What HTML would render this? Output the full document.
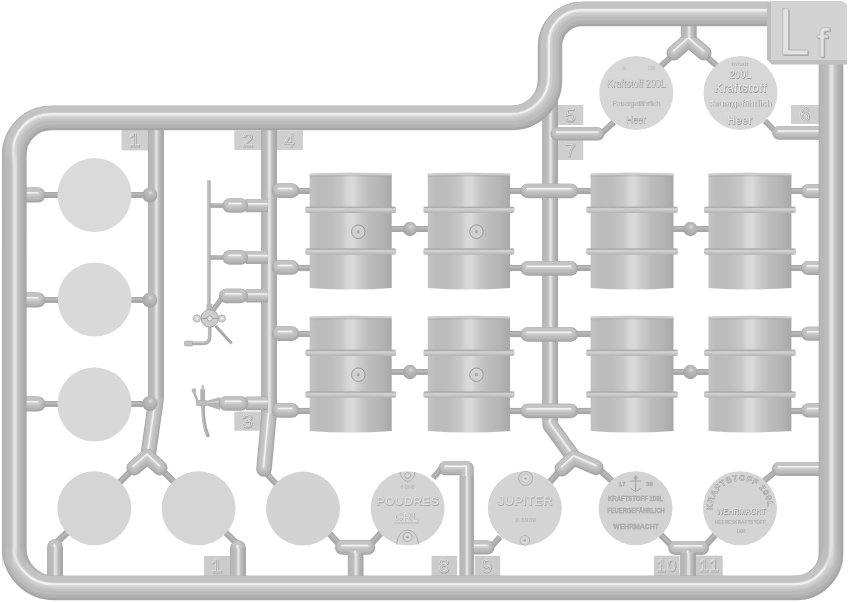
<!DOCTYPE html>
<html><head><meta charset="utf-8"><style>
html,body{margin:0;padding:0;background:#fff;width:851px;height:602px;overflow:hidden;font-family:"Liberation Sans",sans-serif;}
svg{display:block;filter:grayscale(1)}
</style></head><body>
<svg width="851" height="602" viewBox="0 0 851 602"><defs>
<filter id="soft" filterUnits="userSpaceOnUse" x="0" y="0" width="851" height="602"><feGaussianBlur stdDeviation="0.55"/></filter>
<linearGradient id="gbar" x1="0" x2="1" y1="0" y2="0">
  <stop offset="0" stop-color="#c2c2c2"/>
  <stop offset="0.05" stop-color="#c0c0c0"/>
  <stop offset="0.10" stop-color="#bbbbbb"/>
  <stop offset="0.25" stop-color="#bdbdbd"/>
  <stop offset="0.40" stop-color="#c8c8c8"/>
  <stop offset="0.46" stop-color="#d6d6d6"/>
  <stop offset="0.53" stop-color="#dadada"/>
  <stop offset="0.60" stop-color="#cccccc"/>
  <stop offset="0.72" stop-color="#bdbdbd"/>
  <stop offset="0.88" stop-color="#b4b4b4"/>
  <stop offset="1" stop-color="#a8a8a8"/>
</linearGradient>
<linearGradient id="gv" x1="0" x2="1" y1="0" y2="0">
  <stop offset="0" stop-color="#acacac"/>
  <stop offset="0.08" stop-color="#b6b6b6"/>
  <stop offset="0.38" stop-color="#bebebe"/>
  <stop offset="0.45" stop-color="#d8d8d8"/>
  <stop offset="0.50" stop-color="#e4e4e4"/>
  <stop offset="0.58" stop-color="#dfdfdf"/>
  <stop offset="0.64" stop-color="#c6c6c6"/>
  <stop offset="0.78" stop-color="#b6b6b6"/>
  <stop offset="1" stop-color="#a2a2a2"/>
</linearGradient>
<linearGradient id="gring" x1="0" x2="0" y1="0" y2="1">
  <stop offset="0" stop-color="#bdbdbd"/>
  <stop offset="0.4" stop-color="#d2d2d2"/>
  <stop offset="1" stop-color="#b2b2b2"/>
</linearGradient>
<radialGradient id="gball" cx="0.55" cy="0.35" r="0.7">
  <stop offset="0" stop-color="#dadada"/>
  <stop offset="0.25" stop-color="#bdbdbd"/>
  <stop offset="0.7" stop-color="#ababab"/>
  <stop offset="1" stop-color="#9c9c9c"/>
</radialGradient>
</defs><rect width="851" height="602" fill="#fff"/><line x1="44" y1="195" x2="60" y2="195" stroke="#a8a8a8" stroke-width="6"/>
<line x1="44" y1="195" x2="60" y2="195" stroke="#b6b6b6" stroke-width="2.40" transform="translate(0,-0.8)"/>
<line x1="129" y1="195" x2="145" y2="195" stroke="#a8a8a8" stroke-width="6"/>
<line x1="129" y1="195" x2="145" y2="195" stroke="#b6b6b6" stroke-width="2.40" transform="translate(0,-0.8)"/>
<line x1="44" y1="300" x2="60" y2="300" stroke="#a8a8a8" stroke-width="6"/>
<line x1="44" y1="300" x2="60" y2="300" stroke="#b6b6b6" stroke-width="2.40" transform="translate(0,-0.8)"/>
<line x1="129" y1="300" x2="145" y2="300" stroke="#a8a8a8" stroke-width="6"/>
<line x1="129" y1="300" x2="145" y2="300" stroke="#b6b6b6" stroke-width="2.40" transform="translate(0,-0.8)"/>
<line x1="44" y1="404" x2="60" y2="404" stroke="#a8a8a8" stroke-width="6"/>
<line x1="44" y1="404" x2="60" y2="404" stroke="#b6b6b6" stroke-width="2.40" transform="translate(0,-0.8)"/>
<line x1="129" y1="404" x2="145" y2="404" stroke="#a8a8a8" stroke-width="6"/>
<line x1="129" y1="404" x2="145" y2="404" stroke="#b6b6b6" stroke-width="2.40" transform="translate(0,-0.8)"/>
<line x1="56" y1="543" x2="70" y2="530" stroke="#a8a8a8" stroke-width="6.5"/>
<line x1="56" y1="543" x2="70" y2="530" stroke="#b6b6b6" stroke-width="2.60" transform="translate(0,-0.8)"/>
<line x1="236.5" y1="543" x2="223" y2="530" stroke="#a8a8a8" stroke-width="6.5"/>
<line x1="236.5" y1="543" x2="223" y2="530" stroke="#b6b6b6" stroke-width="2.60" transform="translate(0,-0.8)"/>
<line x1="131" y1="471" x2="118" y2="484" stroke="#a8a8a8" stroke-width="6.5"/>
<line x1="131" y1="471" x2="118" y2="484" stroke="#b6b6b6" stroke-width="2.60" transform="translate(0,-0.8)"/>
<line x1="163" y1="471" x2="175" y2="483" stroke="#a8a8a8" stroke-width="6.5"/>
<line x1="163" y1="471" x2="175" y2="483" stroke="#b6b6b6" stroke-width="2.60" transform="translate(0,-0.8)"/>
<line x1="265" y1="472" x2="279" y2="487" stroke="#a8a8a8" stroke-width="6"/>
<line x1="265" y1="472" x2="279" y2="487" stroke="#b6b6b6" stroke-width="2.40" transform="translate(0,-0.8)"/>
<line x1="339" y1="544" x2="328" y2="532" stroke="#a8a8a8" stroke-width="6.5"/>
<line x1="339" y1="544" x2="328" y2="532" stroke="#b6b6b6" stroke-width="2.60" transform="translate(0,-0.8)"/>
<line x1="371" y1="544" x2="381" y2="533" stroke="#a8a8a8" stroke-width="6.5"/>
<line x1="371" y1="544" x2="381" y2="533" stroke="#b6b6b6" stroke-width="2.60" transform="translate(0,-0.8)"/>
<line x1="442" y1="468" x2="433" y2="478" stroke="#a8a8a8" stroke-width="6"/>
<line x1="442" y1="468" x2="433" y2="478" stroke="#b6b6b6" stroke-width="2.40" transform="translate(0,-0.8)"/>
<line x1="492" y1="546" x2="500" y2="537" stroke="#a8a8a8" stroke-width="6"/>
<line x1="492" y1="546" x2="500" y2="537" stroke="#b6b6b6" stroke-width="2.40" transform="translate(0,-0.8)"/>
<line x1="558" y1="473" x2="549" y2="483" stroke="#a8a8a8" stroke-width="6.5"/>
<line x1="558" y1="473" x2="549" y2="483" stroke="#b6b6b6" stroke-width="2.60" transform="translate(0,-0.8)"/>
<line x1="600" y1="470" x2="612" y2="481" stroke="#a8a8a8" stroke-width="6.5"/>
<line x1="600" y1="470" x2="612" y2="481" stroke="#b6b6b6" stroke-width="2.60" transform="translate(0,-0.8)"/>
<line x1="671" y1="545" x2="660" y2="534" stroke="#a8a8a8" stroke-width="6.5"/>
<line x1="671" y1="545" x2="660" y2="534" stroke="#b6b6b6" stroke-width="2.60" transform="translate(0,-0.8)"/>
<line x1="706" y1="545" x2="716" y2="534" stroke="#a8a8a8" stroke-width="6.5"/>
<line x1="706" y1="545" x2="716" y2="534" stroke="#b6b6b6" stroke-width="2.60" transform="translate(0,-0.8)"/>
<line x1="775" y1="472" x2="764" y2="481" stroke="#a8a8a8" stroke-width="6"/>
<line x1="775" y1="472" x2="764" y2="481" stroke="#b6b6b6" stroke-width="2.40" transform="translate(0,-0.8)"/>
<line x1="602" y1="133" x2="614" y2="122" stroke="#a8a8a8" stroke-width="6"/>
<line x1="602" y1="133" x2="614" y2="122" stroke="#b6b6b6" stroke-width="2.40" transform="translate(0,-0.8)"/>
<line x1="774" y1="130" x2="765" y2="121" stroke="#a8a8a8" stroke-width="6"/>
<line x1="774" y1="130" x2="765" y2="121" stroke="#b6b6b6" stroke-width="2.40" transform="translate(0,-0.8)"/>
<line x1="671" y1="57" x2="660" y2="67" stroke="#a8a8a8" stroke-width="6"/>
<line x1="671" y1="57" x2="660" y2="67" stroke="#b6b6b6" stroke-width="2.40" transform="translate(0,-0.8)"/>
<line x1="707" y1="57" x2="717" y2="66" stroke="#a8a8a8" stroke-width="6"/>
<line x1="707" y1="57" x2="717" y2="66" stroke="#b6b6b6" stroke-width="2.40" transform="translate(0,-0.8)"/>
<line x1="296" y1="191" x2="312" y2="191" stroke="#a8a8a8" stroke-width="6.2"/>
<line x1="296" y1="191" x2="312" y2="191" stroke="#b6b6b6" stroke-width="2.48" transform="translate(0,-0.8)"/>
<line x1="508" y1="191" x2="522" y2="191" stroke="#a8a8a8" stroke-width="6.2"/>
<line x1="508" y1="191" x2="522" y2="191" stroke="#b6b6b6" stroke-width="2.48" transform="translate(0,-0.8)"/>
<line x1="577" y1="191" x2="593" y2="191" stroke="#a8a8a8" stroke-width="6.2"/>
<line x1="577" y1="191" x2="593" y2="191" stroke="#b6b6b6" stroke-width="2.48" transform="translate(0,-0.8)"/>
<line x1="789" y1="191" x2="803" y2="191" stroke="#a8a8a8" stroke-width="6.2"/>
<line x1="789" y1="191" x2="803" y2="191" stroke="#b6b6b6" stroke-width="2.48" transform="translate(0,-0.8)"/>
<line x1="296" y1="268" x2="312" y2="268" stroke="#a8a8a8" stroke-width="6.2"/>
<line x1="296" y1="268" x2="312" y2="268" stroke="#b6b6b6" stroke-width="2.48" transform="translate(0,-0.8)"/>
<line x1="508" y1="268" x2="522" y2="268" stroke="#a8a8a8" stroke-width="6.2"/>
<line x1="508" y1="268" x2="522" y2="268" stroke="#b6b6b6" stroke-width="2.48" transform="translate(0,-0.8)"/>
<line x1="577" y1="268" x2="593" y2="268" stroke="#a8a8a8" stroke-width="6.2"/>
<line x1="577" y1="268" x2="593" y2="268" stroke="#b6b6b6" stroke-width="2.48" transform="translate(0,-0.8)"/>
<line x1="789" y1="268" x2="803" y2="268" stroke="#a8a8a8" stroke-width="6.2"/>
<line x1="789" y1="268" x2="803" y2="268" stroke="#b6b6b6" stroke-width="2.48" transform="translate(0,-0.8)"/>
<line x1="390" y1="229" x2="430" y2="229" stroke="#a8a8a8" stroke-width="6"/>
<line x1="390" y1="229" x2="430" y2="229" stroke="#b6b6b6" stroke-width="2.40" transform="translate(0,-0.8)"/>
<line x1="672" y1="229" x2="710" y2="229" stroke="#a8a8a8" stroke-width="6"/>
<line x1="672" y1="229" x2="710" y2="229" stroke="#b6b6b6" stroke-width="2.40" transform="translate(0,-0.8)"/>
<line x1="296" y1="334" x2="312" y2="334" stroke="#a8a8a8" stroke-width="6.2"/>
<line x1="296" y1="334" x2="312" y2="334" stroke="#b6b6b6" stroke-width="2.48" transform="translate(0,-0.8)"/>
<line x1="508" y1="334" x2="522" y2="334" stroke="#a8a8a8" stroke-width="6.2"/>
<line x1="508" y1="334" x2="522" y2="334" stroke="#b6b6b6" stroke-width="2.48" transform="translate(0,-0.8)"/>
<line x1="577" y1="334" x2="593" y2="334" stroke="#a8a8a8" stroke-width="6.2"/>
<line x1="577" y1="334" x2="593" y2="334" stroke="#b6b6b6" stroke-width="2.48" transform="translate(0,-0.8)"/>
<line x1="789" y1="334" x2="803" y2="334" stroke="#a8a8a8" stroke-width="6.2"/>
<line x1="789" y1="334" x2="803" y2="334" stroke="#b6b6b6" stroke-width="2.48" transform="translate(0,-0.8)"/>
<line x1="296" y1="411" x2="312" y2="411" stroke="#a8a8a8" stroke-width="6.2"/>
<line x1="296" y1="411" x2="312" y2="411" stroke="#b6b6b6" stroke-width="2.48" transform="translate(0,-0.8)"/>
<line x1="508" y1="411" x2="522" y2="411" stroke="#a8a8a8" stroke-width="6.2"/>
<line x1="508" y1="411" x2="522" y2="411" stroke="#b6b6b6" stroke-width="2.48" transform="translate(0,-0.8)"/>
<line x1="577" y1="411" x2="593" y2="411" stroke="#a8a8a8" stroke-width="6.2"/>
<line x1="577" y1="411" x2="593" y2="411" stroke="#b6b6b6" stroke-width="2.48" transform="translate(0,-0.8)"/>
<line x1="789" y1="411" x2="803" y2="411" stroke="#a8a8a8" stroke-width="6.2"/>
<line x1="789" y1="411" x2="803" y2="411" stroke="#b6b6b6" stroke-width="2.48" transform="translate(0,-0.8)"/>
<line x1="390" y1="372" x2="430" y2="372" stroke="#a8a8a8" stroke-width="6"/>
<line x1="390" y1="372" x2="430" y2="372" stroke="#b6b6b6" stroke-width="2.40" transform="translate(0,-0.8)"/>
<line x1="672" y1="372" x2="710" y2="372" stroke="#a8a8a8" stroke-width="6"/>
<line x1="672" y1="372" x2="710" y2="372" stroke="#b6b6b6" stroke-width="2.40" transform="translate(0,-0.8)"/>
<line x1="209" y1="205.6" x2="224" y2="205.6" stroke="#a8a8a8" stroke-width="4.5"/>
<line x1="209" y1="205.6" x2="224" y2="205.6" stroke="#b6b6b6" stroke-width="1.80" transform="translate(0,-0.8)"/>
<line x1="209" y1="257.5" x2="224" y2="257.5" stroke="#a8a8a8" stroke-width="4.5"/>
<line x1="209" y1="257.5" x2="224" y2="257.5" stroke="#b6b6b6" stroke-width="1.80" transform="translate(0,-0.8)"/>
<line x1="221" y1="299" x2="212.5" y2="311" stroke="#a8a8a8" stroke-width="5"/>
<line x1="221" y1="299" x2="212.5" y2="311" stroke="#b6b6b6" stroke-width="2.00" transform="translate(0,-0.8)"/>
<circle cx="94.5" cy="195" r="37" fill="#dadada"/>
<circle cx="94.7" cy="299.5" r="37" fill="#d9d9d9"/>
<circle cx="94.5" cy="404.5" r="37" fill="#d8d8d8"/>
<circle cx="94.3" cy="508.3" r="37" fill="#d5d5d5"/>
<circle cx="198.6" cy="508.3" r="37" fill="#d5d5d5"/>
<circle cx="303" cy="508.6" r="37" fill="#d3d3d3"/>
<circle cx="636.3" cy="93" r="37" fill="#d7d7d7"/>
<circle cx="740.5" cy="93" r="37" fill="#d7d7d7"/>
<circle cx="407.6" cy="508.3" r="37" fill="#d4d4d4"/>
<circle cx="524.8" cy="508.3" r="37" fill="#d4d4d4"/>
<circle cx="635.6" cy="508.3" r="37" fill="#d3d3d3"/>
<circle cx="740" cy="508.3" r="37" fill="#d4d4d4"/>
<line x1="209" y1="180.3" x2="209" y2="306" stroke="#aeaeae" stroke-width="3.4"/>
<line x1="208.4" y1="181" x2="208.4" y2="305" stroke="#c6c6c6" stroke-width="1"/>
<rect x="206.5" y="304" width="5.5" height="6" fill="#b9b9b9"/>
<path d="M 209.7 326 L 209.7 336.5 Q 209.7 343.4 203 343.4 L 191 343.4" fill="none" stroke="#aeaeae" stroke-width="3.6"/>
<path d="M 209 326 L 209 336 Q 209 342.6 203 342.6 L 191 342.6" fill="none" stroke="#c8c8c8" stroke-width="1"/>
<rect x="184.5" y="341" width="8" height="5" rx="1" fill="#c2c2c2" stroke="#a8a8a8" stroke-width="0.6"/>
<line x1="215.5" y1="326" x2="231.7" y2="343.4" stroke="#a9a9a9" stroke-width="3"/>
<circle cx="196.9" cy="318.4" r="3.6" fill="#d4d4d4" stroke="#a9a9a9" stroke-width="0.8"/>
<circle cx="196.9" cy="318.4" r="1.2" fill="#f0f0f0"/>
<circle cx="221.9" cy="318.4" r="3.6" fill="#d4d4d4" stroke="#a9a9a9" stroke-width="0.8"/>
<circle cx="221.9" cy="318.4" r="1.2" fill="#f0f0f0"/>
<circle cx="209.7" cy="318.4" r="8.7" fill="#cdcdcd" stroke="#a3a3a3" stroke-width="0.9"/>
<line x1="201.5" y1="318.4" x2="218" y2="318.4" stroke="#9f9f9f" stroke-width="1"/>
<circle cx="209.7" cy="318.4" r="2.6" fill="#e4e4e4" stroke="#a0a0a0" stroke-width="0.8"/>
<path d="M 203 404 C 203 418 204 428 207.9 435.5" fill="none" stroke="#a9a9a9" stroke-width="3.6" stroke-linecap="round"/>
<path d="M 202.3 405 C 202.3 418 203.3 428 207 434.5" fill="none" stroke="#c6c6c6" stroke-width="1"/>
<rect x="200.3" y="389" width="4.8" height="13" fill="#b3b3b3"/>
<rect x="201.5" y="384.9" width="2.4" height="5" fill="#c0c0c0"/>
<line x1="194" y1="392" x2="197.5" y2="401" stroke="#b0b0b0" stroke-width="2.4"/>
<circle cx="194" cy="390.7" r="2.4" fill="#b8b8b8"/>
<rect x="196.3" y="400.5" width="11" height="5.2" rx="1.5" fill="#bdbdbd" stroke="#a6a6a6" stroke-width="0.6"/>
<path d="M 207 400.8 L 220 397 L 220 410 L 207 405.4 Z" fill="#b5b5b5"/>
<path d="M 207 402 L 220 400 L 220 402.5 L 207 403.2 Z" fill="#c9c9c9"/>
<path d="M 309.7 173.7 Q 350.7 171.89999999999998 391.7 173.7 L 391.7 288.0 Q 350.7 291.0 309.7 288.0 Z" fill="url(#gbar)"/>
<path d="M 309.7 173.7 Q 350.7 171.89999999999998 391.7 173.7 L 391.7 175.7 Q 350.7 173.89999999999998 309.7 175.7 Z" fill="#cdcdcd"/>
<path d="M 309.7 175.7 Q 350.7 173.89999999999998 391.7 175.7 L 391.7 177.29999999999998 Q 350.7 175.5 309.7 177.29999999999998 Z" fill="#a9a9a9" opacity="0.45"/>
<rect x="305.2" y="206.7" width="91" height="6.3" rx="2" fill="url(#gring)"/>
<rect x="305.7" y="206.7" width="90" height="1" fill="#8f8f8f" opacity="0.6"/>
<rect x="305.2" y="248.5" width="91" height="6.3" rx="2" fill="url(#gring)"/>
<rect x="305.7" y="248.5" width="90" height="1" fill="#8f8f8f" opacity="0.6"/>
<circle cx="358.3" cy="231.7" r="6.8" fill="#d0d0d0" stroke="#9a9a9a" stroke-width="1"/>
<circle cx="358.3" cy="231.7" r="1.6" fill="#a8a8a8"/>
<path d="M 427.8 173.7 Q 468.90000000000003 171.89999999999998 510.0 173.7 L 510.0 288.0 Q 468.90000000000003 291.0 427.8 288.0 Z" fill="url(#gbar)"/>
<path d="M 427.8 173.7 Q 468.90000000000003 171.89999999999998 510.0 173.7 L 510.0 175.7 Q 468.90000000000003 173.89999999999998 427.8 175.7 Z" fill="#cdcdcd"/>
<path d="M 427.8 175.7 Q 468.90000000000003 173.89999999999998 510.0 175.7 L 510.0 177.29999999999998 Q 468.90000000000003 175.5 427.8 177.29999999999998 Z" fill="#a9a9a9" opacity="0.45"/>
<rect x="423.3" y="206.7" width="91.2" height="6.3" rx="2" fill="url(#gring)"/>
<rect x="423.8" y="206.7" width="90.2" height="1" fill="#8f8f8f" opacity="0.6"/>
<rect x="423.3" y="248.5" width="91.2" height="6.3" rx="2" fill="url(#gring)"/>
<rect x="423.8" y="248.5" width="90.2" height="1" fill="#8f8f8f" opacity="0.6"/>
<circle cx="476.40000000000003" cy="231.7" r="6.8" fill="#d0d0d0" stroke="#9a9a9a" stroke-width="1"/>
<circle cx="476.40000000000003" cy="231.7" r="1.6" fill="#a8a8a8"/>
<path d="M 590.6 173.7 Q 632.0500000000001 171.89999999999998 673.5 173.7 L 673.5 288.0 Q 632.0500000000001 291.0 590.6 288.0 Z" fill="url(#gbar)"/>
<path d="M 590.6 173.7 Q 632.0500000000001 171.89999999999998 673.5 173.7 L 673.5 175.7 Q 632.0500000000001 173.89999999999998 590.6 175.7 Z" fill="#cdcdcd"/>
<path d="M 590.6 175.7 Q 632.0500000000001 173.89999999999998 673.5 175.7 L 673.5 177.29999999999998 Q 632.0500000000001 175.5 590.6 177.29999999999998 Z" fill="#a9a9a9" opacity="0.45"/>
<rect x="586.1" y="206.7" width="91.9" height="6.3" rx="2" fill="url(#gring)"/>
<rect x="586.6" y="206.7" width="90.9" height="1" fill="#8f8f8f" opacity="0.6"/>
<rect x="586.1" y="248.5" width="91.9" height="6.3" rx="2" fill="url(#gring)"/>
<rect x="586.6" y="248.5" width="90.9" height="1" fill="#8f8f8f" opacity="0.6"/>
<path d="M 708.5 173.7 Q 749.95 171.89999999999998 791.4 173.7 L 791.4 288.0 Q 749.95 291.0 708.5 288.0 Z" fill="url(#gbar)"/>
<path d="M 708.5 173.7 Q 749.95 171.89999999999998 791.4 173.7 L 791.4 175.7 Q 749.95 173.89999999999998 708.5 175.7 Z" fill="#cdcdcd"/>
<path d="M 708.5 175.7 Q 749.95 173.89999999999998 791.4 175.7 L 791.4 177.29999999999998 Q 749.95 175.5 708.5 177.29999999999998 Z" fill="#a9a9a9" opacity="0.45"/>
<rect x="704.0" y="206.7" width="91.9" height="6.3" rx="2" fill="url(#gring)"/>
<rect x="704.5" y="206.7" width="90.9" height="1" fill="#8f8f8f" opacity="0.6"/>
<rect x="704.0" y="248.5" width="91.9" height="6.3" rx="2" fill="url(#gring)"/>
<rect x="704.5" y="248.5" width="90.9" height="1" fill="#8f8f8f" opacity="0.6"/>
<path d="M 309.7 316.7 Q 350.7 314.9 391.7 316.7 L 391.7 431.0 Q 350.7 434.0 309.7 431.0 Z" fill="url(#gbar)"/>
<path d="M 309.7 316.7 Q 350.7 314.9 391.7 316.7 L 391.7 318.7 Q 350.7 316.9 309.7 318.7 Z" fill="#cdcdcd"/>
<path d="M 309.7 318.7 Q 350.7 316.9 391.7 318.7 L 391.7 320.3 Q 350.7 318.5 309.7 320.3 Z" fill="#a9a9a9" opacity="0.45"/>
<rect x="305.2" y="349.7" width="91" height="6.3" rx="2" fill="url(#gring)"/>
<rect x="305.7" y="349.7" width="90" height="1" fill="#8f8f8f" opacity="0.6"/>
<rect x="305.2" y="391.5" width="91" height="6.3" rx="2" fill="url(#gring)"/>
<rect x="305.7" y="391.5" width="90" height="1" fill="#8f8f8f" opacity="0.6"/>
<circle cx="358.3" cy="374.7" r="6.8" fill="#d0d0d0" stroke="#9a9a9a" stroke-width="1"/>
<circle cx="358.3" cy="374.7" r="1.6" fill="#a8a8a8"/>
<path d="M 427.8 316.7 Q 468.90000000000003 314.9 510.0 316.7 L 510.0 431.0 Q 468.90000000000003 434.0 427.8 431.0 Z" fill="url(#gbar)"/>
<path d="M 427.8 316.7 Q 468.90000000000003 314.9 510.0 316.7 L 510.0 318.7 Q 468.90000000000003 316.9 427.8 318.7 Z" fill="#cdcdcd"/>
<path d="M 427.8 318.7 Q 468.90000000000003 316.9 510.0 318.7 L 510.0 320.3 Q 468.90000000000003 318.5 427.8 320.3 Z" fill="#a9a9a9" opacity="0.45"/>
<rect x="423.3" y="349.7" width="91.2" height="6.3" rx="2" fill="url(#gring)"/>
<rect x="423.8" y="349.7" width="90.2" height="1" fill="#8f8f8f" opacity="0.6"/>
<rect x="423.3" y="391.5" width="91.2" height="6.3" rx="2" fill="url(#gring)"/>
<rect x="423.8" y="391.5" width="90.2" height="1" fill="#8f8f8f" opacity="0.6"/>
<circle cx="476.40000000000003" cy="374.7" r="6.8" fill="#d0d0d0" stroke="#9a9a9a" stroke-width="1"/>
<circle cx="476.40000000000003" cy="374.7" r="1.6" fill="#a8a8a8"/>
<path d="M 590.6 316.7 Q 632.0500000000001 314.9 673.5 316.7 L 673.5 431.0 Q 632.0500000000001 434.0 590.6 431.0 Z" fill="url(#gbar)"/>
<path d="M 590.6 316.7 Q 632.0500000000001 314.9 673.5 316.7 L 673.5 318.7 Q 632.0500000000001 316.9 590.6 318.7 Z" fill="#cdcdcd"/>
<path d="M 590.6 318.7 Q 632.0500000000001 316.9 673.5 318.7 L 673.5 320.3 Q 632.0500000000001 318.5 590.6 320.3 Z" fill="#a9a9a9" opacity="0.45"/>
<rect x="586.1" y="349.7" width="91.9" height="6.3" rx="2" fill="url(#gring)"/>
<rect x="586.6" y="349.7" width="90.9" height="1" fill="#8f8f8f" opacity="0.6"/>
<rect x="586.1" y="391.5" width="91.9" height="6.3" rx="2" fill="url(#gring)"/>
<rect x="586.6" y="391.5" width="90.9" height="1" fill="#8f8f8f" opacity="0.6"/>
<path d="M 708.5 316.7 Q 749.95 314.9 791.4 316.7 L 791.4 431.0 Q 749.95 434.0 708.5 431.0 Z" fill="url(#gbar)"/>
<path d="M 708.5 316.7 Q 749.95 314.9 791.4 316.7 L 791.4 318.7 Q 749.95 316.9 708.5 318.7 Z" fill="#cdcdcd"/>
<path d="M 708.5 318.7 Q 749.95 316.9 791.4 318.7 L 791.4 320.3 Q 749.95 318.5 708.5 320.3 Z" fill="#a9a9a9" opacity="0.45"/>
<rect x="704.0" y="349.7" width="91.9" height="6.3" rx="2" fill="url(#gring)"/>
<rect x="704.5" y="349.7" width="90.9" height="1" fill="#8f8f8f" opacity="0.6"/>
<rect x="704.0" y="391.5" width="91.9" height="6.3" rx="2" fill="url(#gring)"/>
<rect x="704.5" y="391.5" width="90.9" height="1" fill="#8f8f8f" opacity="0.6"/>
<rect x="121.5" y="130" width="27.0" height="20.400000000000006" fill="#cfcfcf"/>
<text x="135.0" y="147.0" font-size="19" text-anchor="middle" fill="none" stroke="#a9a9a9" stroke-width="1.2" font-family="Liberation Sans, sans-serif">1</text>
<text x="135.0" y="147.0" font-size="19" text-anchor="middle" fill="none" stroke="#e4e4e4" stroke-width="0.6" transform="translate(-0.6,-0.6)" font-family="Liberation Sans, sans-serif">1</text>
<rect x="234.3" y="130.5" width="27.69999999999999" height="19.5" fill="#cfcfcf"/>
<text x="248.2" y="147.1" font-size="19" text-anchor="middle" fill="none" stroke="#a9a9a9" stroke-width="1.2" font-family="Liberation Sans, sans-serif">2</text>
<text x="248.2" y="147.1" font-size="19" text-anchor="middle" fill="none" stroke="#e4e4e4" stroke-width="0.6" transform="translate(-0.6,-0.6)" font-family="Liberation Sans, sans-serif">2</text>
<rect x="276.5" y="130.5" width="26.5" height="19.5" fill="#cfcfcf"/>
<text x="289.8" y="147.1" font-size="19" text-anchor="middle" fill="none" stroke="#a9a9a9" stroke-width="1.2" font-family="Liberation Sans, sans-serif">4</text>
<text x="289.8" y="147.1" font-size="19" text-anchor="middle" fill="none" stroke="#e4e4e4" stroke-width="0.6" transform="translate(-0.6,-0.6)" font-family="Liberation Sans, sans-serif">4</text>
<rect x="558" y="105" width="25.299999999999955" height="20" fill="#cfcfcf"/>
<text x="570.6" y="121.8" font-size="19" text-anchor="middle" fill="none" stroke="#a9a9a9" stroke-width="1.2" font-family="Liberation Sans, sans-serif">5</text>
<text x="570.6" y="121.8" font-size="19" text-anchor="middle" fill="none" stroke="#e4e4e4" stroke-width="0.6" transform="translate(-0.6,-0.6)" font-family="Liberation Sans, sans-serif">5</text>
<rect x="558" y="140" width="25.299999999999955" height="20" fill="#cfcfcf"/>
<text x="570.6" y="156.8" font-size="19" text-anchor="middle" fill="none" stroke="#a9a9a9" stroke-width="1.2" font-family="Liberation Sans, sans-serif">7</text>
<text x="570.6" y="156.8" font-size="19" text-anchor="middle" fill="none" stroke="#e4e4e4" stroke-width="0.6" transform="translate(-0.6,-0.6)" font-family="Liberation Sans, sans-serif">7</text>
<rect x="791" y="105" width="28" height="19" fill="#cfcfcf"/>
<text x="805.0" y="121.3" font-size="19" text-anchor="middle" fill="none" stroke="#a9a9a9" stroke-width="1.2" font-family="Liberation Sans, sans-serif">6</text>
<text x="805.0" y="121.3" font-size="19" text-anchor="middle" fill="none" stroke="#e4e4e4" stroke-width="0.6" transform="translate(-0.6,-0.6)" font-family="Liberation Sans, sans-serif">6</text>
<rect x="234.3" y="411.6" width="26.69999999999999" height="19.099999999999966" fill="#cdcdcd"/>
<text x="247.7" y="428.0" font-size="19" text-anchor="middle" fill="none" stroke="#a9a9a9" stroke-width="1.2" font-family="Liberation Sans, sans-serif">3</text>
<text x="247.7" y="428.0" font-size="19" text-anchor="middle" fill="none" stroke="#e4e4e4" stroke-width="0.6" transform="translate(-0.6,-0.6)" font-family="Liberation Sans, sans-serif">3</text>
<rect x="204" y="556" width="26" height="20" fill="#cbcbcb"/>
<text x="217.0" y="572.8" font-size="19" text-anchor="middle" fill="none" stroke="#a9a9a9" stroke-width="1.2" font-family="Liberation Sans, sans-serif">1</text>
<text x="217.0" y="572.8" font-size="19" text-anchor="middle" fill="none" stroke="#e4e4e4" stroke-width="0.6" transform="translate(-0.6,-0.6)" font-family="Liberation Sans, sans-serif">1</text>
<rect x="431.6" y="555.8" width="25.599999999999966" height="20.200000000000045" fill="#cbcbcb"/>
<text x="444.4" y="572.7" font-size="19" text-anchor="middle" fill="none" stroke="#a9a9a9" stroke-width="1.2" font-family="Liberation Sans, sans-serif">8</text>
<text x="444.4" y="572.7" font-size="19" text-anchor="middle" fill="none" stroke="#e4e4e4" stroke-width="0.6" transform="translate(-0.6,-0.6)" font-family="Liberation Sans, sans-serif">8</text>
<rect x="474.7" y="555.8" width="25.5" height="20.200000000000045" fill="#cbcbcb"/>
<text x="487.4" y="572.7" font-size="19" text-anchor="middle" fill="none" stroke="#a9a9a9" stroke-width="1.2" font-family="Liberation Sans, sans-serif">9</text>
<text x="487.4" y="572.7" font-size="19" text-anchor="middle" fill="none" stroke="#e4e4e4" stroke-width="0.6" transform="translate(-0.6,-0.6)" font-family="Liberation Sans, sans-serif">9</text>
<rect x="654" y="555.7" width="25.600000000000023" height="20.299999999999955" fill="#cbcbcb"/>
<text x="667.4" y="571.6" font-size="16" text-anchor="middle" letter-spacing="1.2" fill="none" stroke="#a9a9a9" stroke-width="1.2" font-family="Liberation Sans, sans-serif">10</text>
<text x="667.4" y="571.6" font-size="16" text-anchor="middle" letter-spacing="1.2" fill="none" stroke="#e4e4e4" stroke-width="0.6" transform="translate(-0.6,-0.6)" font-family="Liberation Sans, sans-serif">10</text>
<rect x="695.7" y="555.7" width="27.0" height="20.299999999999955" fill="#cbcbcb"/>
<text x="710.5" y="571.6" font-size="16" text-anchor="middle" letter-spacing="2.5" fill="none" stroke="#a9a9a9" stroke-width="1.2" font-family="Liberation Sans, sans-serif">11</text>
<text x="710.5" y="571.6" font-size="16" text-anchor="middle" letter-spacing="2.5" fill="none" stroke="#e4e4e4" stroke-width="0.6" transform="translate(-0.6,-0.6)" font-family="Liberation Sans, sans-serif">11</text>
<g fill="none" stroke-linecap="round" stroke-linejoin="round"><path d="M 20 195 L 38 195" stroke="#a6a6a6" stroke-width="15.00"/><g filter="url(#soft)"><path d="M 20 195 L 38 195" stroke="#b1b1b1" stroke-width="13.50" transform="translate(-0.15,-0.75)"/><path d="M 20 195 L 38 195" stroke="#bbbbbb" stroke-width="11.55" transform="translate(-0.32,-1.59)"/><path d="M 20 195 L 38 195" stroke="#c3c3c3" stroke-width="9.00" transform="translate(-0.54,-2.70)"/><path d="M 20 195 L 38 195" stroke="#cccccc" stroke-width="4.20" transform="translate(-0.30,-1.50)"/><path d="M 20 195 L 38 195" stroke="#d8d8d8" stroke-width="2.10" transform="translate(-0.39,-1.95)"/><path d="M 20 195 L 38 195" stroke="#f0f0f0" stroke-width="1.50" transform="translate(-0.46,-2.28)"/></g></g>
<g fill="none" stroke-linecap="round" stroke-linejoin="round"><path d="M 20 300 L 38 300" stroke="#a6a6a6" stroke-width="15.00"/><g filter="url(#soft)"><path d="M 20 300 L 38 300" stroke="#b1b1b1" stroke-width="13.50" transform="translate(-0.15,-0.75)"/><path d="M 20 300 L 38 300" stroke="#bbbbbb" stroke-width="11.55" transform="translate(-0.32,-1.59)"/><path d="M 20 300 L 38 300" stroke="#c3c3c3" stroke-width="9.00" transform="translate(-0.54,-2.70)"/><path d="M 20 300 L 38 300" stroke="#cccccc" stroke-width="4.20" transform="translate(-0.30,-1.50)"/><path d="M 20 300 L 38 300" stroke="#d8d8d8" stroke-width="2.10" transform="translate(-0.39,-1.95)"/><path d="M 20 300 L 38 300" stroke="#f0f0f0" stroke-width="1.50" transform="translate(-0.46,-2.28)"/></g></g>
<g fill="none" stroke-linecap="round" stroke-linejoin="round"><path d="M 20 404 L 38 404" stroke="#a6a6a6" stroke-width="15.00"/><g filter="url(#soft)"><path d="M 20 404 L 38 404" stroke="#b1b1b1" stroke-width="13.50" transform="translate(-0.15,-0.75)"/><path d="M 20 404 L 38 404" stroke="#bbbbbb" stroke-width="11.55" transform="translate(-0.32,-1.59)"/><path d="M 20 404 L 38 404" stroke="#c3c3c3" stroke-width="9.00" transform="translate(-0.54,-2.70)"/><path d="M 20 404 L 38 404" stroke="#cccccc" stroke-width="4.20" transform="translate(-0.30,-1.50)"/><path d="M 20 404 L 38 404" stroke="#d8d8d8" stroke-width="2.10" transform="translate(-0.39,-1.95)"/><path d="M 20 404 L 38 404" stroke="#f0f0f0" stroke-width="1.50" transform="translate(-0.46,-2.28)"/></g></g>
<g fill="none" stroke-linecap="round" stroke-linejoin="round"><path d="M 808 191.3 L 825 191.3" stroke="#a6a6a6" stroke-width="14.00"/><g filter="url(#soft)"><path d="M 808 191.3 L 825 191.3" stroke="#b1b1b1" stroke-width="12.60" transform="translate(-0.14,-0.70)"/><path d="M 808 191.3 L 825 191.3" stroke="#bbbbbb" stroke-width="10.78" transform="translate(-0.30,-1.48)"/><path d="M 808 191.3 L 825 191.3" stroke="#c3c3c3" stroke-width="8.40" transform="translate(-0.50,-2.52)"/><path d="M 808 191.3 L 825 191.3" stroke="#cccccc" stroke-width="3.92" transform="translate(-0.28,-1.40)"/><path d="M 808 191.3 L 825 191.3" stroke="#d8d8d8" stroke-width="1.96" transform="translate(-0.36,-1.82)"/><path d="M 808 191.3 L 825 191.3" stroke="#f0f0f0" stroke-width="1.50" transform="translate(-0.43,-2.13)"/></g></g>
<g fill="none" stroke-linecap="round" stroke-linejoin="round"><path d="M 808 268 L 825 268" stroke="#a6a6a6" stroke-width="14.00"/><g filter="url(#soft)"><path d="M 808 268 L 825 268" stroke="#b1b1b1" stroke-width="12.60" transform="translate(-0.14,-0.70)"/><path d="M 808 268 L 825 268" stroke="#bbbbbb" stroke-width="10.78" transform="translate(-0.30,-1.48)"/><path d="M 808 268 L 825 268" stroke="#c3c3c3" stroke-width="8.40" transform="translate(-0.50,-2.52)"/><path d="M 808 268 L 825 268" stroke="#cccccc" stroke-width="3.92" transform="translate(-0.28,-1.40)"/><path d="M 808 268 L 825 268" stroke="#d8d8d8" stroke-width="1.96" transform="translate(-0.36,-1.82)"/><path d="M 808 268 L 825 268" stroke="#f0f0f0" stroke-width="1.50" transform="translate(-0.43,-2.13)"/></g></g>
<g fill="none" stroke-linecap="round" stroke-linejoin="round"><path d="M 808 333.8 L 825 333.8" stroke="#a6a6a6" stroke-width="14.00"/><g filter="url(#soft)"><path d="M 808 333.8 L 825 333.8" stroke="#b1b1b1" stroke-width="12.60" transform="translate(-0.14,-0.70)"/><path d="M 808 333.8 L 825 333.8" stroke="#bbbbbb" stroke-width="10.78" transform="translate(-0.30,-1.48)"/><path d="M 808 333.8 L 825 333.8" stroke="#c3c3c3" stroke-width="8.40" transform="translate(-0.50,-2.52)"/><path d="M 808 333.8 L 825 333.8" stroke="#cccccc" stroke-width="3.92" transform="translate(-0.28,-1.40)"/><path d="M 808 333.8 L 825 333.8" stroke="#d8d8d8" stroke-width="1.96" transform="translate(-0.36,-1.82)"/><path d="M 808 333.8 L 825 333.8" stroke="#f0f0f0" stroke-width="1.50" transform="translate(-0.43,-2.13)"/></g></g>
<g fill="none" stroke-linecap="round" stroke-linejoin="round"><path d="M 808 410.6 L 825 410.6" stroke="#a6a6a6" stroke-width="14.00"/><g filter="url(#soft)"><path d="M 808 410.6 L 825 410.6" stroke="#b1b1b1" stroke-width="12.60" transform="translate(-0.14,-0.70)"/><path d="M 808 410.6 L 825 410.6" stroke="#bbbbbb" stroke-width="10.78" transform="translate(-0.30,-1.48)"/><path d="M 808 410.6 L 825 410.6" stroke="#c3c3c3" stroke-width="8.40" transform="translate(-0.50,-2.52)"/><path d="M 808 410.6 L 825 410.6" stroke="#cccccc" stroke-width="3.92" transform="translate(-0.28,-1.40)"/><path d="M 808 410.6 L 825 410.6" stroke="#d8d8d8" stroke-width="1.96" transform="translate(-0.36,-1.82)"/><path d="M 808 410.6 L 825 410.6" stroke="#f0f0f0" stroke-width="1.50" transform="translate(-0.43,-2.13)"/></g></g>
<g fill="none" stroke-linecap="round" stroke-linejoin="round"><path d="M 779 133 L 825 133" stroke="#a6a6a6" stroke-width="13.50"/><g filter="url(#soft)"><path d="M 779 133 L 825 133" stroke="#b1b1b1" stroke-width="12.15" transform="translate(-0.14,-0.68)"/><path d="M 779 133 L 825 133" stroke="#bbbbbb" stroke-width="10.39" transform="translate(-0.29,-1.43)"/><path d="M 779 133 L 825 133" stroke="#c3c3c3" stroke-width="8.10" transform="translate(-0.49,-2.43)"/><path d="M 779 133 L 825 133" stroke="#cccccc" stroke-width="3.78" transform="translate(-0.27,-1.35)"/><path d="M 779 133 L 825 133" stroke="#d8d8d8" stroke-width="1.89" transform="translate(-0.35,-1.76)"/><path d="M 779 133 L 825 133" stroke="#f0f0f0" stroke-width="1.50" transform="translate(-0.41,-2.05)"/></g></g>
<g fill="none" stroke-linecap="round" stroke-linejoin="round"><path d="M 779 469 L 825 469" stroke="#a6a6a6" stroke-width="14.00"/><g filter="url(#soft)"><path d="M 779 469 L 825 469" stroke="#b1b1b1" stroke-width="12.60" transform="translate(-0.14,-0.70)"/><path d="M 779 469 L 825 469" stroke="#bbbbbb" stroke-width="10.78" transform="translate(-0.30,-1.48)"/><path d="M 779 469 L 825 469" stroke="#c3c3c3" stroke-width="8.40" transform="translate(-0.50,-2.52)"/><path d="M 779 469 L 825 469" stroke="#cccccc" stroke-width="3.92" transform="translate(-0.28,-1.40)"/><path d="M 779 469 L 825 469" stroke="#d8d8d8" stroke-width="1.96" transform="translate(-0.36,-1.82)"/><path d="M 779 469 L 825 469" stroke="#f0f0f0" stroke-width="1.50" transform="translate(-0.43,-2.13)"/></g></g>
<g fill="none" stroke-linecap="round" stroke-linejoin="round"><path d="M 55 580 L 55 547" stroke="#a6a6a6" stroke-width="15.50"/><g filter="url(#soft)"><path d="M 55 580 L 55 547" stroke="#b1b1b1" stroke-width="13.95" transform="translate(-0.16,-0.78)"/><path d="M 55 580 L 55 547" stroke="#bbbbbb" stroke-width="11.94" transform="translate(-0.33,-1.64)"/><path d="M 55 580 L 55 547" stroke="#c3c3c3" stroke-width="9.30" transform="translate(-0.56,-2.79)"/><path d="M 55 580 L 55 547" stroke="#cccccc" stroke-width="4.34" transform="translate(-0.31,-1.55)"/><path d="M 55 580 L 55 547" stroke="#d8d8d8" stroke-width="2.17" transform="translate(-0.40,-2.02)"/><path d="M 55 580 L 55 547" stroke="#f0f0f0" stroke-width="1.50" transform="translate(-0.47,-2.36)"/></g></g>
<g fill="none" stroke-linecap="round" stroke-linejoin="round"><path d="M 238 580 L 238 548" stroke="#a6a6a6" stroke-width="15.50"/><g filter="url(#soft)"><path d="M 238 580 L 238 548" stroke="#b1b1b1" stroke-width="13.95" transform="translate(-0.16,-0.78)"/><path d="M 238 580 L 238 548" stroke="#bbbbbb" stroke-width="11.94" transform="translate(-0.33,-1.64)"/><path d="M 238 580 L 238 548" stroke="#c3c3c3" stroke-width="9.30" transform="translate(-0.56,-2.79)"/><path d="M 238 580 L 238 548" stroke="#cccccc" stroke-width="4.34" transform="translate(-0.31,-1.55)"/><path d="M 238 580 L 238 548" stroke="#d8d8d8" stroke-width="2.17" transform="translate(-0.40,-2.02)"/><path d="M 238 580 L 238 548" stroke="#f0f0f0" stroke-width="1.50" transform="translate(-0.47,-2.36)"/></g></g>
<g fill="none" stroke-linecap="round" stroke-linejoin="round"><path d="M 342.3 547.6 L 368 547.6" stroke="#a6a6a6" stroke-width="14.50"/><g filter="url(#soft)"><path d="M 342.3 547.6 L 368 547.6" stroke="#b1b1b1" stroke-width="13.05" transform="translate(-0.15,-0.73)"/><path d="M 342.3 547.6 L 368 547.6" stroke="#bbbbbb" stroke-width="11.17" transform="translate(-0.31,-1.54)"/><path d="M 342.3 547.6 L 368 547.6" stroke="#c3c3c3" stroke-width="8.70" transform="translate(-0.52,-2.61)"/><path d="M 342.3 547.6 L 368 547.6" stroke="#cccccc" stroke-width="4.06" transform="translate(-0.29,-1.45)"/><path d="M 342.3 547.6 L 368 547.6" stroke="#d8d8d8" stroke-width="2.03" transform="translate(-0.38,-1.89)"/><path d="M 342.3 547.6 L 368 547.6" stroke="#f0f0f0" stroke-width="1.50" transform="translate(-0.44,-2.20)"/></g></g>
<g fill="none" stroke-linecap="butt" stroke-linejoin="round"><path d="M 355.6 580 L 355.6 553" stroke="#a6a6a6" stroke-width="15.40"/><g filter="url(#soft)"><path d="M 355.6 580 L 355.6 553" stroke="#b1b1b1" stroke-width="13.86" transform="translate(-0.15,-0.77)"/><path d="M 355.6 580 L 355.6 553" stroke="#bbbbbb" stroke-width="11.86" transform="translate(-0.33,-1.63)"/><path d="M 355.6 580 L 355.6 553" stroke="#c3c3c3" stroke-width="9.24" transform="translate(-0.55,-2.77)"/><path d="M 355.6 580 L 355.6 553" stroke="#cccccc" stroke-width="4.31" transform="translate(-0.31,-1.54)"/><path d="M 355.6 580 L 355.6 553" stroke="#d8d8d8" stroke-width="2.16" transform="translate(-0.40,-2.00)"/><path d="M 355.6 580 L 355.6 553" stroke="#f0f0f0" stroke-width="1.50" transform="translate(-0.47,-2.34)"/></g></g>
<g fill="none" stroke-linecap="round" stroke-linejoin="round"><path d="M 466.7 585 L 466.7 468.3 L 445.5 468.3" stroke="#a6a6a6" stroke-width="14.00"/><g filter="url(#soft)"><path d="M 466.7 585 L 466.7 468.3 L 445.5 468.3" stroke="#b1b1b1" stroke-width="12.60" transform="translate(-0.14,-0.70)"/><path d="M 466.7 585 L 466.7 468.3 L 445.5 468.3" stroke="#bbbbbb" stroke-width="10.78" transform="translate(-0.30,-1.48)"/><path d="M 466.7 585 L 466.7 468.3 L 445.5 468.3" stroke="#c3c3c3" stroke-width="8.40" transform="translate(-0.50,-2.52)"/><path d="M 466.7 585 L 466.7 468.3 L 445.5 468.3" stroke="#cccccc" stroke-width="3.92" transform="translate(-0.28,-1.40)"/><path d="M 466.7 585 L 466.7 468.3 L 445.5 468.3" stroke="#d8d8d8" stroke-width="1.96" transform="translate(-0.36,-1.82)"/><path d="M 466.7 585 L 466.7 468.3 L 445.5 468.3" stroke="#f0f0f0" stroke-width="1.50" transform="translate(-0.43,-2.13)"/></g></g>
<g fill="none" stroke-linecap="round" stroke-linejoin="round"><path d="M 470 547.5 L 487.5 547.5" stroke="#a6a6a6" stroke-width="14.00"/><g filter="url(#soft)"><path d="M 470 547.5 L 487.5 547.5" stroke="#b1b1b1" stroke-width="12.60" transform="translate(-0.14,-0.70)"/><path d="M 470 547.5 L 487.5 547.5" stroke="#bbbbbb" stroke-width="10.78" transform="translate(-0.30,-1.48)"/><path d="M 470 547.5 L 487.5 547.5" stroke="#c3c3c3" stroke-width="8.40" transform="translate(-0.50,-2.52)"/><path d="M 470 547.5 L 487.5 547.5" stroke="#cccccc" stroke-width="3.92" transform="translate(-0.28,-1.40)"/><path d="M 470 547.5 L 487.5 547.5" stroke="#d8d8d8" stroke-width="1.96" transform="translate(-0.36,-1.82)"/><path d="M 470 547.5 L 487.5 547.5" stroke="#f0f0f0" stroke-width="1.50" transform="translate(-0.43,-2.13)"/></g></g>
<g fill="none" stroke-linecap="round" stroke-linejoin="round"><path d="M 675.2 548 L 702 548" stroke="#a6a6a6" stroke-width="14.00"/><g filter="url(#soft)"><path d="M 675.2 548 L 702 548" stroke="#b1b1b1" stroke-width="12.60" transform="translate(-0.14,-0.70)"/><path d="M 675.2 548 L 702 548" stroke="#bbbbbb" stroke-width="10.78" transform="translate(-0.30,-1.48)"/><path d="M 675.2 548 L 702 548" stroke="#c3c3c3" stroke-width="8.40" transform="translate(-0.50,-2.52)"/><path d="M 675.2 548 L 702 548" stroke="#cccccc" stroke-width="3.92" transform="translate(-0.28,-1.40)"/><path d="M 675.2 548 L 702 548" stroke="#d8d8d8" stroke-width="1.96" transform="translate(-0.36,-1.82)"/><path d="M 675.2 548 L 702 548" stroke="#f0f0f0" stroke-width="1.50" transform="translate(-0.43,-2.13)"/></g></g>
<g fill="none" stroke-linecap="butt" stroke-linejoin="round"><path d="M 688.1 580 L 688.1 553" stroke="#a6a6a6" stroke-width="15.40"/><g filter="url(#soft)"><path d="M 688.1 580 L 688.1 553" stroke="#b1b1b1" stroke-width="13.86" transform="translate(-0.15,-0.77)"/><path d="M 688.1 580 L 688.1 553" stroke="#bbbbbb" stroke-width="11.86" transform="translate(-0.33,-1.63)"/><path d="M 688.1 580 L 688.1 553" stroke="#c3c3c3" stroke-width="9.24" transform="translate(-0.55,-2.77)"/><path d="M 688.1 580 L 688.1 553" stroke="#cccccc" stroke-width="4.31" transform="translate(-0.31,-1.54)"/><path d="M 688.1 580 L 688.1 553" stroke="#d8d8d8" stroke-width="2.16" transform="translate(-0.40,-2.00)"/><path d="M 688.1 580 L 688.1 553" stroke="#f0f0f0" stroke-width="1.50" transform="translate(-0.47,-2.34)"/></g></g>
<g fill="none" stroke-linecap="butt" stroke-linejoin="round"><path d="M 156 125 L 156 400 L 148 456.5" stroke="#a6a6a6" stroke-width="15.50"/><g filter="url(#soft)"><path d="M 156 125 L 156 400 L 148 456.5" stroke="#b1b1b1" stroke-width="13.95" transform="translate(-0.16,-0.78)"/><path d="M 156 125 L 156 400 L 148 456.5" stroke="#bbbbbb" stroke-width="11.94" transform="translate(-0.33,-1.64)"/><path d="M 156 125 L 156 400 L 148 456.5" stroke="#c3c3c3" stroke-width="9.30" transform="translate(-0.56,-2.79)"/><path d="M 156 125 L 156 400 L 148 456.5" stroke="#cccccc" stroke-width="4.34" transform="translate(-0.31,-1.55)"/><path d="M 156 125 L 156 400 L 148 456.5" stroke="#d8d8d8" stroke-width="2.17" transform="translate(-0.40,-2.02)"/><path d="M 156 125 L 156 400 L 148 456.5" stroke="#f0f0f0" stroke-width="1.50" transform="translate(-0.47,-2.36)"/></g></g>
<g fill="none" stroke-linecap="round" stroke-linejoin="round"><path d="M 147.5 456.5 L 134 468 M 147.5 456.5 L 160 468" stroke="#a6a6a6" stroke-width="15.00"/><g filter="url(#soft)"><path d="M 147.5 456.5 L 134 468 M 147.5 456.5 L 160 468" stroke="#b1b1b1" stroke-width="13.50" transform="translate(-0.15,-0.75)"/><path d="M 147.5 456.5 L 134 468 M 147.5 456.5 L 160 468" stroke="#bbbbbb" stroke-width="11.55" transform="translate(-0.32,-1.59)"/><path d="M 147.5 456.5 L 134 468 M 147.5 456.5 L 160 468" stroke="#c3c3c3" stroke-width="9.00" transform="translate(-0.54,-2.70)"/><path d="M 147.5 456.5 L 134 468 M 147.5 456.5 L 160 468" stroke="#cccccc" stroke-width="4.20" transform="translate(-0.30,-1.50)"/><path d="M 147.5 456.5 L 134 468 M 147.5 456.5 L 160 468" stroke="#d8d8d8" stroke-width="2.10" transform="translate(-0.39,-1.95)"/><path d="M 147.5 456.5 L 134 468 M 147.5 456.5 L 160 468" stroke="#f0f0f0" stroke-width="1.50" transform="translate(-0.46,-2.28)"/></g></g>
<g fill="none" stroke-linecap="round" stroke-linejoin="round"><path d="M 269 118 L 269 415 L 264 469" stroke="#a6a6a6" stroke-width="15.50"/><g filter="url(#soft)"><path d="M 269 118 L 269 415 L 264 469" stroke="#b1b1b1" stroke-width="13.95" transform="translate(-0.16,-0.78)"/><path d="M 269 118 L 269 415 L 264 469" stroke="#bbbbbb" stroke-width="11.94" transform="translate(-0.33,-1.64)"/><path d="M 269 118 L 269 415 L 264 469" stroke="#c3c3c3" stroke-width="9.30" transform="translate(-0.56,-2.79)"/><path d="M 269 118 L 269 415 L 264 469" stroke="#cccccc" stroke-width="4.34" transform="translate(-0.31,-1.55)"/><path d="M 269 118 L 269 415 L 264 469" stroke="#d8d8d8" stroke-width="2.17" transform="translate(-0.40,-2.02)"/><path d="M 269 118 L 269 415 L 264 469" stroke="#f0f0f0" stroke-width="1.50" transform="translate(-0.47,-2.36)"/></g></g>
<g fill="none" stroke-linecap="butt" stroke-linejoin="round"><path d="M 550.1 80 L 550.1 425 L 574 458" stroke="#a6a6a6" stroke-width="15.40"/><g filter="url(#soft)"><path d="M 550.1 80 L 550.1 425 L 574 458" stroke="#b1b1b1" stroke-width="13.86" transform="translate(-0.15,-0.77)"/><path d="M 550.1 80 L 550.1 425 L 574 458" stroke="#bbbbbb" stroke-width="11.86" transform="translate(-0.33,-1.63)"/><path d="M 550.1 80 L 550.1 425 L 574 458" stroke="#c3c3c3" stroke-width="9.24" transform="translate(-0.55,-2.77)"/><path d="M 550.1 80 L 550.1 425 L 574 458" stroke="#cccccc" stroke-width="4.31" transform="translate(-0.31,-1.54)"/><path d="M 550.1 80 L 550.1 425 L 574 458" stroke="#d8d8d8" stroke-width="2.16" transform="translate(-0.40,-2.00)"/><path d="M 550.1 80 L 550.1 425 L 574 458" stroke="#f0f0f0" stroke-width="1.50" transform="translate(-0.47,-2.34)"/></g></g>
<g fill="none" stroke-linecap="round" stroke-linejoin="round"><path d="M 574 458 L 562 469 M 574 458 L 596 467.5" stroke="#a6a6a6" stroke-width="15.00"/><g filter="url(#soft)"><path d="M 574 458 L 562 469 M 574 458 L 596 467.5" stroke="#b1b1b1" stroke-width="13.50" transform="translate(-0.15,-0.75)"/><path d="M 574 458 L 562 469 M 574 458 L 596 467.5" stroke="#bbbbbb" stroke-width="11.55" transform="translate(-0.32,-1.59)"/><path d="M 574 458 L 562 469 M 574 458 L 596 467.5" stroke="#c3c3c3" stroke-width="9.00" transform="translate(-0.54,-2.70)"/><path d="M 574 458 L 562 469 M 574 458 L 596 467.5" stroke="#cccccc" stroke-width="4.20" transform="translate(-0.30,-1.50)"/><path d="M 574 458 L 562 469 M 574 458 L 596 467.5" stroke="#d8d8d8" stroke-width="2.10" transform="translate(-0.39,-1.95)"/><path d="M 574 458 L 562 469 M 574 458 L 596 467.5" stroke="#f0f0f0" stroke-width="1.50" transform="translate(-0.46,-2.28)"/></g></g>
<g fill="none" stroke-linecap="butt" stroke-linejoin="round"><path d="M 688.7 20 L 688.7 40" stroke="#a6a6a6" stroke-width="15.50"/><g filter="url(#soft)"><path d="M 688.7 20 L 688.7 40" stroke="#b1b1b1" stroke-width="13.95" transform="translate(-0.16,-0.78)"/><path d="M 688.7 20 L 688.7 40" stroke="#bbbbbb" stroke-width="11.94" transform="translate(-0.33,-1.64)"/><path d="M 688.7 20 L 688.7 40" stroke="#c3c3c3" stroke-width="9.30" transform="translate(-0.56,-2.79)"/><path d="M 688.7 20 L 688.7 40" stroke="#cccccc" stroke-width="4.34" transform="translate(-0.31,-1.55)"/><path d="M 688.7 20 L 688.7 40" stroke="#d8d8d8" stroke-width="2.17" transform="translate(-0.40,-2.02)"/><path d="M 688.7 20 L 688.7 40" stroke="#f0f0f0" stroke-width="1.50" transform="translate(-0.47,-2.36)"/></g></g>
<g fill="none" stroke-linecap="round" stroke-linejoin="round"><path d="M 688.7 40 L 674 53 M 688.7 40 L 704 53" stroke="#a6a6a6" stroke-width="15.00"/><g filter="url(#soft)"><path d="M 688.7 40 L 674 53 M 688.7 40 L 704 53" stroke="#b1b1b1" stroke-width="13.50" transform="translate(-0.15,-0.75)"/><path d="M 688.7 40 L 674 53 M 688.7 40 L 704 53" stroke="#bbbbbb" stroke-width="11.55" transform="translate(-0.32,-1.59)"/><path d="M 688.7 40 L 674 53 M 688.7 40 L 704 53" stroke="#c3c3c3" stroke-width="9.00" transform="translate(-0.54,-2.70)"/><path d="M 688.7 40 L 674 53 M 688.7 40 L 704 53" stroke="#cccccc" stroke-width="4.20" transform="translate(-0.30,-1.50)"/><path d="M 688.7 40 L 674 53 M 688.7 40 L 704 53" stroke="#d8d8d8" stroke-width="2.10" transform="translate(-0.39,-1.95)"/><path d="M 688.7 40 L 674 53 M 688.7 40 L 704 53" stroke="#f0f0f0" stroke-width="1.50" transform="translate(-0.46,-2.28)"/></g></g>
<rect x="148.25" y="128" width="15.5" height="270" fill="url(#gv)"/>
<rect x="261.25" y="128" width="15.5" height="285" fill="url(#gv)"/>
<rect x="542.40" y="84" width="15.4" height="336" fill="url(#gv)"/>
<rect x="680.95" y="24" width="15.5" height="14" fill="url(#gv)"/>
<rect x="47.25" y="547" width="15.5" height="33" fill="url(#gv)"/>
<rect x="230.25" y="548" width="15.5" height="32" fill="url(#gv)"/>
<rect x="347.90" y="553" width="15.4" height="27" fill="url(#gv)"/>
<rect x="459.70" y="476" width="14" height="104" fill="url(#gv)"/>
<rect x="680.40" y="553" width="15.4" height="27" fill="url(#gv)"/>
<g fill="none" stroke-linecap="round" stroke-linejoin="round"><path d="M 527.5 191 L 571 191" stroke="#a6a6a6" stroke-width="14.30"/><g filter="url(#soft)"><path d="M 527.5 191 L 571 191" stroke="#b1b1b1" stroke-width="12.87" transform="translate(-0.14,-0.72)"/><path d="M 527.5 191 L 571 191" stroke="#bbbbbb" stroke-width="11.01" transform="translate(-0.30,-1.52)"/><path d="M 527.5 191 L 571 191" stroke="#c3c3c3" stroke-width="8.58" transform="translate(-0.51,-2.57)"/><path d="M 527.5 191 L 571 191" stroke="#cccccc" stroke-width="4.00" transform="translate(-0.29,-1.43)"/><path d="M 527.5 191 L 571 191" stroke="#d8d8d8" stroke-width="2.00" transform="translate(-0.37,-1.86)"/><path d="M 527.5 191 L 571 191" stroke="#f0f0f0" stroke-width="1.50" transform="translate(-0.43,-2.17)"/></g></g>
<g fill="none" stroke-linecap="round" stroke-linejoin="round"><path d="M 527.5 268.5 L 571 268.5" stroke="#a6a6a6" stroke-width="14.30"/><g filter="url(#soft)"><path d="M 527.5 268.5 L 571 268.5" stroke="#b1b1b1" stroke-width="12.87" transform="translate(-0.14,-0.72)"/><path d="M 527.5 268.5 L 571 268.5" stroke="#bbbbbb" stroke-width="11.01" transform="translate(-0.30,-1.52)"/><path d="M 527.5 268.5 L 571 268.5" stroke="#c3c3c3" stroke-width="8.58" transform="translate(-0.51,-2.57)"/><path d="M 527.5 268.5 L 571 268.5" stroke="#cccccc" stroke-width="4.00" transform="translate(-0.29,-1.43)"/><path d="M 527.5 268.5 L 571 268.5" stroke="#d8d8d8" stroke-width="2.00" transform="translate(-0.37,-1.86)"/><path d="M 527.5 268.5 L 571 268.5" stroke="#f0f0f0" stroke-width="1.50" transform="translate(-0.43,-2.17)"/></g></g>
<g fill="none" stroke-linecap="round" stroke-linejoin="round"><path d="M 527.5 334.5 L 571 334.5" stroke="#a6a6a6" stroke-width="14.30"/><g filter="url(#soft)"><path d="M 527.5 334.5 L 571 334.5" stroke="#b1b1b1" stroke-width="12.87" transform="translate(-0.14,-0.72)"/><path d="M 527.5 334.5 L 571 334.5" stroke="#bbbbbb" stroke-width="11.01" transform="translate(-0.30,-1.52)"/><path d="M 527.5 334.5 L 571 334.5" stroke="#c3c3c3" stroke-width="8.58" transform="translate(-0.51,-2.57)"/><path d="M 527.5 334.5 L 571 334.5" stroke="#cccccc" stroke-width="4.00" transform="translate(-0.29,-1.43)"/><path d="M 527.5 334.5 L 571 334.5" stroke="#d8d8d8" stroke-width="2.00" transform="translate(-0.37,-1.86)"/><path d="M 527.5 334.5 L 571 334.5" stroke="#f0f0f0" stroke-width="1.50" transform="translate(-0.43,-2.17)"/></g></g>
<g fill="none" stroke-linecap="round" stroke-linejoin="round"><path d="M 527.5 411 L 571 411" stroke="#a6a6a6" stroke-width="14.30"/><g filter="url(#soft)"><path d="M 527.5 411 L 571 411" stroke="#b1b1b1" stroke-width="12.87" transform="translate(-0.14,-0.72)"/><path d="M 527.5 411 L 571 411" stroke="#bbbbbb" stroke-width="11.01" transform="translate(-0.30,-1.52)"/><path d="M 527.5 411 L 571 411" stroke="#c3c3c3" stroke-width="8.58" transform="translate(-0.51,-2.57)"/><path d="M 527.5 411 L 571 411" stroke="#cccccc" stroke-width="4.00" transform="translate(-0.29,-1.43)"/><path d="M 527.5 411 L 571 411" stroke="#d8d8d8" stroke-width="2.00" transform="translate(-0.37,-1.86)"/><path d="M 527.5 411 L 571 411" stroke="#f0f0f0" stroke-width="1.50" transform="translate(-0.43,-2.17)"/></g></g>
<g fill="none" stroke-linecap="round" stroke-linejoin="round"><path d="M 557 134 L 598 134" stroke="#a6a6a6" stroke-width="13.00"/><g filter="url(#soft)"><path d="M 557 134 L 598 134" stroke="#b1b1b1" stroke-width="11.70" transform="translate(-0.13,-0.65)"/><path d="M 557 134 L 598 134" stroke="#bbbbbb" stroke-width="10.01" transform="translate(-0.28,-1.38)"/><path d="M 557 134 L 598 134" stroke="#c3c3c3" stroke-width="7.80" transform="translate(-0.47,-2.34)"/><path d="M 557 134 L 598 134" stroke="#cccccc" stroke-width="3.64" transform="translate(-0.26,-1.30)"/><path d="M 557 134 L 598 134" stroke="#d8d8d8" stroke-width="1.82" transform="translate(-0.34,-1.69)"/><path d="M 557 134 L 598 134" stroke="#f0f0f0" stroke-width="1.50" transform="translate(-0.40,-1.98)"/></g></g>
<g fill="none" stroke-linecap="butt" stroke-linejoin="round"><path d="M 246 205.7 L 268 205.7" stroke="#a6a6a6" stroke-width="13.00"/><g filter="url(#soft)"><path d="M 246 205.7 L 268 205.7" stroke="#b1b1b1" stroke-width="11.70" transform="translate(-0.13,-0.65)"/><path d="M 246 205.7 L 268 205.7" stroke="#bbbbbb" stroke-width="10.01" transform="translate(-0.28,-1.38)"/><path d="M 246 205.7 L 268 205.7" stroke="#c3c3c3" stroke-width="7.80" transform="translate(-0.47,-2.34)"/><path d="M 246 205.7 L 268 205.7" stroke="#cccccc" stroke-width="3.64" transform="translate(-0.26,-1.30)"/><path d="M 246 205.7 L 268 205.7" stroke="#d8d8d8" stroke-width="1.82" transform="translate(-0.34,-1.69)"/><path d="M 246 205.7 L 268 205.7" stroke="#f0f0f0" stroke-width="1.50" transform="translate(-0.40,-1.98)"/></g></g>
<g fill="none" stroke-linecap="round" stroke-linejoin="round"><path d="M 229.5 205.7 L 241 205.7" stroke="#a6a6a6" stroke-width="14.30"/><g filter="url(#soft)"><path d="M 229.5 205.7 L 241 205.7" stroke="#b1b1b1" stroke-width="12.87" transform="translate(-0.14,-0.72)"/><path d="M 229.5 205.7 L 241 205.7" stroke="#bbbbbb" stroke-width="11.01" transform="translate(-0.30,-1.52)"/><path d="M 229.5 205.7 L 241 205.7" stroke="#c3c3c3" stroke-width="8.58" transform="translate(-0.51,-2.57)"/><path d="M 229.5 205.7 L 241 205.7" stroke="#cccccc" stroke-width="4.00" transform="translate(-0.29,-1.43)"/><path d="M 229.5 205.7 L 241 205.7" stroke="#d8d8d8" stroke-width="2.00" transform="translate(-0.37,-1.86)"/><path d="M 229.5 205.7 L 241 205.7" stroke="#f0f0f0" stroke-width="1.50" transform="translate(-0.43,-2.17)"/></g></g>
<g fill="none" stroke-linecap="butt" stroke-linejoin="round"><path d="M 246 257.5 L 268 257.5" stroke="#a6a6a6" stroke-width="13.00"/><g filter="url(#soft)"><path d="M 246 257.5 L 268 257.5" stroke="#b1b1b1" stroke-width="11.70" transform="translate(-0.13,-0.65)"/><path d="M 246 257.5 L 268 257.5" stroke="#bbbbbb" stroke-width="10.01" transform="translate(-0.28,-1.38)"/><path d="M 246 257.5 L 268 257.5" stroke="#c3c3c3" stroke-width="7.80" transform="translate(-0.47,-2.34)"/><path d="M 246 257.5 L 268 257.5" stroke="#cccccc" stroke-width="3.64" transform="translate(-0.26,-1.30)"/><path d="M 246 257.5 L 268 257.5" stroke="#d8d8d8" stroke-width="1.82" transform="translate(-0.34,-1.69)"/><path d="M 246 257.5 L 268 257.5" stroke="#f0f0f0" stroke-width="1.50" transform="translate(-0.40,-1.98)"/></g></g>
<g fill="none" stroke-linecap="round" stroke-linejoin="round"><path d="M 229.5 257.5 L 241 257.5" stroke="#a6a6a6" stroke-width="14.30"/><g filter="url(#soft)"><path d="M 229.5 257.5 L 241 257.5" stroke="#b1b1b1" stroke-width="12.87" transform="translate(-0.14,-0.72)"/><path d="M 229.5 257.5 L 241 257.5" stroke="#bbbbbb" stroke-width="11.01" transform="translate(-0.30,-1.52)"/><path d="M 229.5 257.5 L 241 257.5" stroke="#c3c3c3" stroke-width="8.58" transform="translate(-0.51,-2.57)"/><path d="M 229.5 257.5 L 241 257.5" stroke="#cccccc" stroke-width="4.00" transform="translate(-0.29,-1.43)"/><path d="M 229.5 257.5 L 241 257.5" stroke="#d8d8d8" stroke-width="2.00" transform="translate(-0.37,-1.86)"/><path d="M 229.5 257.5 L 241 257.5" stroke="#f0f0f0" stroke-width="1.50" transform="translate(-0.43,-2.17)"/></g></g>
<g fill="none" stroke-linecap="butt" stroke-linejoin="round"><path d="M 246 296 L 268 296" stroke="#a6a6a6" stroke-width="13.00"/><g filter="url(#soft)"><path d="M 246 296 L 268 296" stroke="#b1b1b1" stroke-width="11.70" transform="translate(-0.13,-0.65)"/><path d="M 246 296 L 268 296" stroke="#bbbbbb" stroke-width="10.01" transform="translate(-0.28,-1.38)"/><path d="M 246 296 L 268 296" stroke="#c3c3c3" stroke-width="7.80" transform="translate(-0.47,-2.34)"/><path d="M 246 296 L 268 296" stroke="#cccccc" stroke-width="3.64" transform="translate(-0.26,-1.30)"/><path d="M 246 296 L 268 296" stroke="#d8d8d8" stroke-width="1.82" transform="translate(-0.34,-1.69)"/><path d="M 246 296 L 268 296" stroke="#f0f0f0" stroke-width="1.50" transform="translate(-0.40,-1.98)"/></g></g>
<g fill="none" stroke-linecap="round" stroke-linejoin="round"><path d="M 226 296 L 241 296" stroke="#a6a6a6" stroke-width="14.30"/><g filter="url(#soft)"><path d="M 226 296 L 241 296" stroke="#b1b1b1" stroke-width="12.87" transform="translate(-0.14,-0.72)"/><path d="M 226 296 L 241 296" stroke="#bbbbbb" stroke-width="11.01" transform="translate(-0.30,-1.52)"/><path d="M 226 296 L 241 296" stroke="#c3c3c3" stroke-width="8.58" transform="translate(-0.51,-2.57)"/><path d="M 226 296 L 241 296" stroke="#cccccc" stroke-width="4.00" transform="translate(-0.29,-1.43)"/><path d="M 226 296 L 241 296" stroke="#d8d8d8" stroke-width="2.00" transform="translate(-0.37,-1.86)"/><path d="M 226 296 L 241 296" stroke="#f0f0f0" stroke-width="1.50" transform="translate(-0.43,-2.17)"/></g></g>
<g fill="none" stroke-linecap="butt" stroke-linejoin="round"><path d="M 246 403.5 L 268 403.5" stroke="#a6a6a6" stroke-width="13.50"/><g filter="url(#soft)"><path d="M 246 403.5 L 268 403.5" stroke="#b1b1b1" stroke-width="12.15" transform="translate(-0.14,-0.68)"/><path d="M 246 403.5 L 268 403.5" stroke="#bbbbbb" stroke-width="10.39" transform="translate(-0.29,-1.43)"/><path d="M 246 403.5 L 268 403.5" stroke="#c3c3c3" stroke-width="8.10" transform="translate(-0.49,-2.43)"/><path d="M 246 403.5 L 268 403.5" stroke="#cccccc" stroke-width="3.78" transform="translate(-0.27,-1.35)"/><path d="M 246 403.5 L 268 403.5" stroke="#d8d8d8" stroke-width="1.89" transform="translate(-0.35,-1.76)"/><path d="M 246 403.5 L 268 403.5" stroke="#f0f0f0" stroke-width="1.50" transform="translate(-0.41,-2.05)"/></g></g>
<g fill="none" stroke-linecap="round" stroke-linejoin="round"><path d="M 226 403.5 L 241 403.5" stroke="#a6a6a6" stroke-width="14.50"/><g filter="url(#soft)"><path d="M 226 403.5 L 241 403.5" stroke="#b1b1b1" stroke-width="13.05" transform="translate(-0.15,-0.73)"/><path d="M 226 403.5 L 241 403.5" stroke="#bbbbbb" stroke-width="11.17" transform="translate(-0.31,-1.54)"/><path d="M 226 403.5 L 241 403.5" stroke="#c3c3c3" stroke-width="8.70" transform="translate(-0.52,-2.61)"/><path d="M 226 403.5 L 241 403.5" stroke="#cccccc" stroke-width="4.06" transform="translate(-0.29,-1.45)"/><path d="M 226 403.5 L 241 403.5" stroke="#d8d8d8" stroke-width="2.03" transform="translate(-0.38,-1.89)"/><path d="M 226 403.5 L 241 403.5" stroke="#f0f0f0" stroke-width="1.50" transform="translate(-0.44,-2.20)"/></g></g>
<g fill="none" stroke-linecap="round" stroke-linejoin="round"><path d="M 279 190.7 L 292 190.7" stroke="#a6a6a6" stroke-width="14.50"/><g filter="url(#soft)"><path d="M 279 190.7 L 292 190.7" stroke="#b1b1b1" stroke-width="13.05" transform="translate(-0.15,-0.73)"/><path d="M 279 190.7 L 292 190.7" stroke="#bbbbbb" stroke-width="11.17" transform="translate(-0.31,-1.54)"/><path d="M 279 190.7 L 292 190.7" stroke="#c3c3c3" stroke-width="8.70" transform="translate(-0.52,-2.61)"/><path d="M 279 190.7 L 292 190.7" stroke="#cccccc" stroke-width="4.06" transform="translate(-0.29,-1.45)"/><path d="M 279 190.7 L 292 190.7" stroke="#d8d8d8" stroke-width="2.03" transform="translate(-0.38,-1.89)"/><path d="M 279 190.7 L 292 190.7" stroke="#f0f0f0" stroke-width="1.50" transform="translate(-0.44,-2.20)"/></g></g>
<g fill="none" stroke-linecap="round" stroke-linejoin="round"><path d="M 279 267.6 L 292 267.6" stroke="#a6a6a6" stroke-width="14.50"/><g filter="url(#soft)"><path d="M 279 267.6 L 292 267.6" stroke="#b1b1b1" stroke-width="13.05" transform="translate(-0.15,-0.73)"/><path d="M 279 267.6 L 292 267.6" stroke="#bbbbbb" stroke-width="11.17" transform="translate(-0.31,-1.54)"/><path d="M 279 267.6 L 292 267.6" stroke="#c3c3c3" stroke-width="8.70" transform="translate(-0.52,-2.61)"/><path d="M 279 267.6 L 292 267.6" stroke="#cccccc" stroke-width="4.06" transform="translate(-0.29,-1.45)"/><path d="M 279 267.6 L 292 267.6" stroke="#d8d8d8" stroke-width="2.03" transform="translate(-0.38,-1.89)"/><path d="M 279 267.6 L 292 267.6" stroke="#f0f0f0" stroke-width="1.50" transform="translate(-0.44,-2.20)"/></g></g>
<g fill="none" stroke-linecap="round" stroke-linejoin="round"><path d="M 279 333.7 L 292 333.7" stroke="#a6a6a6" stroke-width="14.50"/><g filter="url(#soft)"><path d="M 279 333.7 L 292 333.7" stroke="#b1b1b1" stroke-width="13.05" transform="translate(-0.15,-0.73)"/><path d="M 279 333.7 L 292 333.7" stroke="#bbbbbb" stroke-width="11.17" transform="translate(-0.31,-1.54)"/><path d="M 279 333.7 L 292 333.7" stroke="#c3c3c3" stroke-width="8.70" transform="translate(-0.52,-2.61)"/><path d="M 279 333.7 L 292 333.7" stroke="#cccccc" stroke-width="4.06" transform="translate(-0.29,-1.45)"/><path d="M 279 333.7 L 292 333.7" stroke="#d8d8d8" stroke-width="2.03" transform="translate(-0.38,-1.89)"/><path d="M 279 333.7 L 292 333.7" stroke="#f0f0f0" stroke-width="1.50" transform="translate(-0.44,-2.20)"/></g></g>
<g fill="none" stroke-linecap="round" stroke-linejoin="round"><path d="M 279 410.6 L 292 410.6" stroke="#a6a6a6" stroke-width="14.50"/><g filter="url(#soft)"><path d="M 279 410.6 L 292 410.6" stroke="#b1b1b1" stroke-width="13.05" transform="translate(-0.15,-0.73)"/><path d="M 279 410.6 L 292 410.6" stroke="#bbbbbb" stroke-width="11.17" transform="translate(-0.31,-1.54)"/><path d="M 279 410.6 L 292 410.6" stroke="#c3c3c3" stroke-width="8.70" transform="translate(-0.52,-2.61)"/><path d="M 279 410.6 L 292 410.6" stroke="#cccccc" stroke-width="4.06" transform="translate(-0.29,-1.45)"/><path d="M 279 410.6 L 292 410.6" stroke="#d8d8d8" stroke-width="2.03" transform="translate(-0.38,-1.89)"/><path d="M 279 410.6 L 292 410.6" stroke="#f0f0f0" stroke-width="1.50" transform="translate(-0.44,-2.20)"/></g></g>
<circle cx="410" cy="229" r="7.2" fill="url(#gball)"/>
<circle cx="690.5" cy="229" r="7.2" fill="url(#gball)"/>
<circle cx="410" cy="372" r="7.2" fill="url(#gball)"/>
<circle cx="690.5" cy="372" r="7.2" fill="url(#gball)"/>
<circle cx="149.8" cy="195" r="7.6" fill="url(#gball)"/>
<circle cx="149.8" cy="300" r="7.6" fill="url(#gball)"/>
<circle cx="149.8" cy="403.3" r="7.6" fill="url(#gball)"/>
<g fill="none" stroke-linecap="butt" stroke-linejoin="round"><path d="M 831 50 L 831 553 A 35 35 0 0 1 796 588 L 54.25 588 A 40 40 0 0 1 14.25 548 L 14.25 155 A 37 37 0 0 1 51.25 118 L 512 118 A 38 38 0 0 0 550 80 L 550 46 A 32 32 0 0 1 582 14 L 800 14" stroke="#a6a6a6" stroke-width="24.50"/><g filter="url(#soft)"><path d="M 831 50 L 831 553 A 35 35 0 0 1 796 588 L 54.25 588 A 40 40 0 0 1 14.25 548 L 14.25 155 A 37 37 0 0 1 51.25 118 L 512 118 A 38 38 0 0 0 550 80 L 550 46 A 32 32 0 0 1 582 14 L 800 14" stroke="#b1b1b1" stroke-width="22.05" transform="translate(-0.37,-1.23)"/><path d="M 831 50 L 831 553 A 35 35 0 0 1 796 588 L 54.25 588 A 40 40 0 0 1 14.25 548 L 14.25 155 A 37 37 0 0 1 51.25 118 L 512 118 A 38 38 0 0 0 550 80 L 550 46 A 32 32 0 0 1 582 14 L 800 14" stroke="#bbbbbb" stroke-width="18.87" transform="translate(-0.78,-2.60)"/><path d="M 831 50 L 831 553 A 35 35 0 0 1 796 588 L 54.25 588 A 40 40 0 0 1 14.25 548 L 14.25 155 A 37 37 0 0 1 51.25 118 L 512 118 A 38 38 0 0 0 550 80 L 550 46 A 32 32 0 0 1 582 14 L 800 14" stroke="#c3c3c3" stroke-width="14.70" transform="translate(-1.32,-4.41)"/><path d="M 831 50 L 831 553 A 35 35 0 0 1 796 588 L 54.25 588 A 40 40 0 0 1 14.25 548 L 14.25 155 A 37 37 0 0 1 51.25 118 L 512 118 A 38 38 0 0 0 550 80 L 550 46 A 32 32 0 0 1 582 14 L 800 14" stroke="#cccccc" stroke-width="6.86" transform="translate(-0.73,-2.45)"/><path d="M 831 50 L 831 553 A 35 35 0 0 1 796 588 L 54.25 588 A 40 40 0 0 1 14.25 548 L 14.25 155 A 37 37 0 0 1 51.25 118 L 512 118 A 38 38 0 0 0 550 80 L 550 46 A 32 32 0 0 1 582 14 L 800 14" stroke="#d8d8d8" stroke-width="3.43" transform="translate(-0.96,-3.19)"/><path d="M 831 50 L 831 553 A 35 35 0 0 1 796 588 L 54.25 588 A 40 40 0 0 1 14.25 548 L 14.25 155 A 37 37 0 0 1 51.25 118 L 512 118 A 38 38 0 0 0 550 80 L 550 46 A 32 32 0 0 1 582 14 L 800 14" stroke="#f0f0f0" stroke-width="1.96" transform="translate(-1.12,-3.72)"/></g></g>
<linearGradient id="fg1" x1="0" x2="0" y1="0" y2="1"><stop offset="0" stop-color="#fff" stop-opacity="0"/><stop offset="0.058" stop-color="#fff"/><stop offset="0.942" stop-color="#fff"/><stop offset="1" stop-color="#fff" stop-opacity="0"/></linearGradient>
<mask id="fm1" maskUnits="userSpaceOnUse" x="0" y="0" width="851" height="602"><rect x="2.00" y="140" width="24.5" height="430" fill="url(#fg1)"/></mask>
<rect x="2.00" y="140" width="24.5" height="430" fill="url(#gv)" mask="url(#fm1)"/>
<linearGradient id="fg2" x1="0" x2="0" y1="0" y2="1"><stop offset="0" stop-color="#fff" stop-opacity="0"/><stop offset="0.004" stop-color="#fff"/><stop offset="0.952" stop-color="#fff"/><stop offset="1" stop-color="#fff" stop-opacity="0"/></linearGradient>
<mask id="fm2" maskUnits="userSpaceOnUse" x="0" y="0" width="851" height="602"><rect x="818.75" y="50" width="24.5" height="520" fill="url(#fg2)"/></mask>
<rect x="818.75" y="50" width="24.5" height="520" fill="url(#gv)" mask="url(#fm2)"/>
<path d="M 767 6 L 771 1.2 L 840 1.2 Q 847 1.2 847 8 L 847 64.5 L 772 64.5 L 767 59.5 Z" fill="#bfbfbf"/>
<path d="M 771 1.2 L 840 1.2 Q 847 1.2 847 8 L 847 60 L 771 60 Z" fill="#d3d3d3"/>
<path d="M 782.7 8.7 L 788.5 8.7 L 788.5 50 L 807.7 50 L 807.7 54.7 L 782.7 54.7 Z" fill="#a9a9a9" transform="translate(1.2,1.2)"/>
<path d="M 782.7 8.7 L 788.5 8.7 L 788.5 50 L 807.7 50 L 807.7 54.7 L 782.7 54.7 Z" fill="#e2e2e2" stroke="#b0b0b0" stroke-width="0.7"/>
<path d="M 820 57 L 820 38 L 817 38 L 817 34.8 L 820 34.8 L 820 32 Q 820 27.3 825.5 27.3 L 829.8 27.5 L 829.8 31 L 826 31 Q 824 31 824 33 L 824 34.8 L 828 34.8 L 828 38 L 824 38 L 824 57 Z" fill="#a9a9a9" transform="translate(1.2,1.2)"/>
<path d="M 820 57 L 820 38 L 817 38 L 817 34.8 L 820 34.8 L 820 32 Q 820 27.3 825.5 27.3 L 829.8 27.5 L 829.8 31 L 826 31 Q 824 31 824 33 L 824 34.8 L 828 34.8 L 828 38 L 824 38 L 824 57 Z" fill="#e2e2e2" stroke="#b0b0b0" stroke-width="0.7"/>
<text x="636.8499999999999" y="87.89999999999999" font-size="10" font-weight="normal" text-anchor="middle" textLength="58.6" lengthAdjust="spacingAndGlyphs" fill="#9c9c9c" font-family="Liberation Sans, sans-serif">Kraftstoff 200L</text>
<text x="636.3" y="87.3" font-size="10" font-weight="normal" text-anchor="middle" textLength="58.6" lengthAdjust="spacingAndGlyphs" fill="#e6e6e6" stroke="#9c9c9c" stroke-width="0.2" font-family="Liberation Sans, sans-serif">Kraftstoff 200L</text>
<text x="636.55" y="106.1" font-size="7" font-weight="normal" text-anchor="middle" textLength="48" lengthAdjust="spacingAndGlyphs" fill="#9c9c9c" font-family="Liberation Sans, sans-serif">Feuergefährlich</text>
<text x="636" y="105.5" font-size="7" font-weight="normal" text-anchor="middle" textLength="48" lengthAdjust="spacingAndGlyphs" fill="#e6e6e6" stroke="#9c9c9c" stroke-width="0.2" font-family="Liberation Sans, sans-serif">Feuergefährlich</text>
<text x="636.55" y="123.6" font-size="10.5" font-weight="normal" text-anchor="middle" textLength="20" lengthAdjust="spacingAndGlyphs" fill="#9c9c9c" font-family="Liberation Sans, sans-serif">Heer</text>
<text x="636" y="123" font-size="10.5" font-weight="normal" text-anchor="middle" textLength="20" lengthAdjust="spacingAndGlyphs" fill="#e6e6e6" stroke="#9c9c9c" stroke-width="0.2" font-family="Liberation Sans, sans-serif">Heer</text>
<text x="624" y="70" font-size="5" font-weight="normal" text-anchor="middle" fill="#b5b5b5" stroke="none" stroke-width="0" font-family="Liberation Sans, sans-serif">✠</text>
<text x="651.5" y="70" font-size="4.5" font-weight="normal" text-anchor="middle" textLength="8" lengthAdjust="spacingAndGlyphs" fill="#b5b5b5" stroke="none" stroke-width="0" font-family="Liberation Sans, sans-serif">1938</text>
<text x="740" y="65.6" font-size="5" font-weight="bold" text-anchor="middle" textLength="17" lengthAdjust="spacingAndGlyphs" fill="#b8b8b8" stroke="none" stroke-width="0" font-family="Liberation Sans, sans-serif">Inhalt</text>
<text x="740.9499999999999" y="78.5" font-size="10" font-weight="bold" text-anchor="middle" textLength="22" lengthAdjust="spacingAndGlyphs" fill="#9c9c9c" font-family="Liberation Sans, sans-serif">200L</text>
<text x="740.4" y="77.9" font-size="10" font-weight="bold" text-anchor="middle" textLength="22" lengthAdjust="spacingAndGlyphs" fill="#e6e6e6" stroke="#9c9c9c" stroke-width="0.2" font-family="Liberation Sans, sans-serif">200L</text>
<text x="741.05" y="92.8" font-size="13.2" font-weight="bold" text-anchor="middle" textLength="52.4" lengthAdjust="spacingAndGlyphs" fill="#9c9c9c" font-family="Liberation Sans, sans-serif">Kraftstoff</text>
<text x="740.5" y="92.2" font-size="13.2" font-weight="bold" text-anchor="middle" textLength="52.4" lengthAdjust="spacingAndGlyphs" fill="#e6e6e6" stroke="#9c9c9c" stroke-width="0.2" font-family="Liberation Sans, sans-serif">Kraftstoff</text>
<text x="740.75" y="107.1" font-size="9.5" font-weight="bold" text-anchor="middle" textLength="62.6" lengthAdjust="spacingAndGlyphs" fill="#9c9c9c" font-family="Liberation Sans, sans-serif">Feuergefährlich</text>
<text x="740.2" y="106.5" font-size="9.5" font-weight="bold" text-anchor="middle" textLength="62.6" lengthAdjust="spacingAndGlyphs" fill="#e6e6e6" stroke="#9c9c9c" stroke-width="0.2" font-family="Liberation Sans, sans-serif">Feuergefährlich</text>
<text x="740.3499999999999" y="124.8" font-size="12.5" font-weight="bold" text-anchor="middle" textLength="25.2" lengthAdjust="spacingAndGlyphs" fill="#9c9c9c" font-family="Liberation Sans, sans-serif">Heer</text>
<text x="739.8" y="124.2" font-size="12.5" font-weight="bold" text-anchor="middle" textLength="25.2" lengthAdjust="spacingAndGlyphs" fill="#e6e6e6" stroke="#9c9c9c" stroke-width="0.2" font-family="Liberation Sans, sans-serif">Heer</text>
<text x="408.15000000000003" y="505.90000000000003" font-size="11.5" font-weight="bold" text-anchor="middle" textLength="62.8" lengthAdjust="spacingAndGlyphs" fill="#ababab" font-family="Liberation Sans, sans-serif">POUDRES</text>
<text x="407.6" y="505.3" font-size="11.5" font-weight="bold" text-anchor="middle" textLength="62.8" lengthAdjust="spacingAndGlyphs" fill="#dddddd" stroke="#ababab" stroke-width="0.2" font-family="Liberation Sans, sans-serif">POUDRES</text>
<text x="406.95" y="521.1" font-size="11" font-weight="bold" text-anchor="middle" textLength="24.8" lengthAdjust="spacingAndGlyphs" fill="#ababab" font-family="Liberation Sans, sans-serif">CRL</text>
<text x="406.4" y="520.5" font-size="11" font-weight="bold" text-anchor="middle" textLength="24.8" lengthAdjust="spacingAndGlyphs" fill="#dddddd" stroke="#ababab" stroke-width="0.2" font-family="Liberation Sans, sans-serif">CRL</text>
<line x1="394" y1="523" x2="419" y2="523" stroke="#b5b5b5" stroke-width="0.8"/>
<text x="407.6" y="489.2" font-size="5" font-weight="bold" text-anchor="middle" textLength="14" lengthAdjust="spacingAndGlyphs" fill="#b8b8b8" stroke="none" stroke-width="0" font-family="Liberation Sans, sans-serif">8-1940</text>
<path d="M 400 472 Q 401 480 407.6 481.5 Q 414 480 415 472" fill="#d4d4d4" stroke="#a9a9a9" stroke-width="0.8"/>
<circle cx="407.6" cy="475.6" r="3" fill="none" stroke="#a9a9a9" stroke-width="0.8"/>
<path d="M 396.5 544.5 Q 398 531 407.6 530 Q 417 531 418.7 544.5" fill="#d4d4d4" stroke="#a9a9a9" stroke-width="0.9"/>
<circle cx="407.6" cy="537" r="4.5" fill="#d8d8d8" stroke="#a3a3a3" stroke-width="0.9"/>
<circle cx="407.6" cy="537" r="1.3" fill="#a8a8a8"/>
<circle cx="525.6" cy="478.4" r="7" fill="#d6d6d6" stroke="#a8a8a8" stroke-width="0.9"/>
<circle cx="525.6" cy="478.4" r="4.5" fill="#dadada" stroke="#b5b5b5" stroke-width="0.7"/>
<circle cx="525.6" cy="478.4" r="1.2" fill="#a8a8a8"/>
<text x="525.3499999999999" y="505.90000000000003" font-size="13.5" font-weight="bold" text-anchor="middle" textLength="55.3" lengthAdjust="spacingAndGlyphs" fill="#ababab" font-family="Liberation Sans, sans-serif">JUPITER</text>
<text x="524.8" y="505.3" font-size="13.5" font-weight="bold" text-anchor="middle" textLength="55.3" lengthAdjust="spacingAndGlyphs" fill="#dddddd" stroke="#ababab" stroke-width="0.2" font-family="Liberation Sans, sans-serif">JUPITER</text>
<text x="525.5" y="521.6" font-size="6" font-weight="bold" text-anchor="middle" textLength="21" lengthAdjust="spacingAndGlyphs" fill="#b9b9b9" stroke="none" stroke-width="0" font-family="Liberation Sans, sans-serif">2-1939</text>
<circle cx="524.8" cy="540.4" r="4.8" fill="#d6d6d6" stroke="#a8a8a8" stroke-width="0.8"/>
<circle cx="524.8" cy="540.4" r="1.2" fill="#a8a8a8"/>
<text x="622" y="486" font-size="6" font-weight="bold" text-anchor="middle" textLength="7" lengthAdjust="spacingAndGlyphs" fill="#bdbdbd" stroke="#9f9f9f" stroke-width="0.3" font-family="Liberation Sans, sans-serif">17</text>
<text x="649.5" y="486" font-size="6" font-weight="bold" text-anchor="middle" textLength="7" lengthAdjust="spacingAndGlyphs" fill="#bdbdbd" stroke="#9f9f9f" stroke-width="0.3" font-family="Liberation Sans, sans-serif">38</text>
<g stroke="#a4a4a4" stroke-width="1" fill="none"><line x1="635.6" y1="475.5" x2="635.6" y2="492"/><path d="M 630 481 L 641 481 M 630.5 488 Q 635.6 494 640.7 488"/><circle cx="635.6" cy="478" r="1.5"/></g>
<text x="635.6" y="501.3" font-size="7" font-weight="bold" text-anchor="middle" textLength="55.2" lengthAdjust="spacingAndGlyphs" fill="#bababa" stroke="#9c9c9c" stroke-width="0.35" font-family="Liberation Sans, sans-serif">KRAFTSTOFF 200L</text>
<text x="636" y="512.5" font-size="7" font-weight="bold" text-anchor="middle" textLength="57.5" lengthAdjust="spacingAndGlyphs" fill="#b8b8b8" stroke="#9c9c9c" stroke-width="0.35" font-family="Liberation Sans, sans-serif">FEUERGEFÄHRLICH</text>
<text x="636" y="529" font-size="8" font-weight="bold" text-anchor="middle" textLength="45.5" lengthAdjust="spacingAndGlyphs" fill="#bababa" stroke="#9c9c9c" stroke-width="0.35" font-family="Liberation Sans, sans-serif">WEHRMACHT</text>
<path id="arcR" d="M 712.6 510.2 A 27.5 27.5 0 1 1 767.5 509.3" fill="none"/>
<text font-size="8.3" font-weight="bold" fill="#dedede" stroke="#9a9a9a" stroke-width="0.5" font-family="Liberation Sans, sans-serif"><textPath href="#arcR" textLength="87" lengthAdjust="spacing">KRAFTSTOFF 200L</textPath></text>
<text x="741.55" y="514.6" font-size="9.5" font-weight="bold" text-anchor="middle" textLength="49.3" lengthAdjust="spacingAndGlyphs" fill="#9c9c9c" font-family="Liberation Sans, sans-serif">WEHRMACHT</text>
<text x="741" y="514" font-size="9.5" font-weight="bold" text-anchor="middle" textLength="49.3" lengthAdjust="spacingAndGlyphs" fill="#e6e6e6" stroke="#9c9c9c" stroke-width="0.2" font-family="Liberation Sans, sans-serif">WEHRMACHT</text>
<text x="740.3" y="524" font-size="5.5" font-weight="bold" text-anchor="middle" textLength="50.7" lengthAdjust="spacingAndGlyphs" fill="#b0b0b0" stroke="none" stroke-width="0" font-family="Liberation Sans, sans-serif">HEERESKRAFTSTOFF</text>
<text x="741" y="533" font-size="6" font-weight="bold" text-anchor="middle" textLength="9" lengthAdjust="spacingAndGlyphs" fill="#b0b0b0" stroke="none" stroke-width="0" font-family="Liberation Sans, sans-serif">1936</text></svg>
</body></html>
